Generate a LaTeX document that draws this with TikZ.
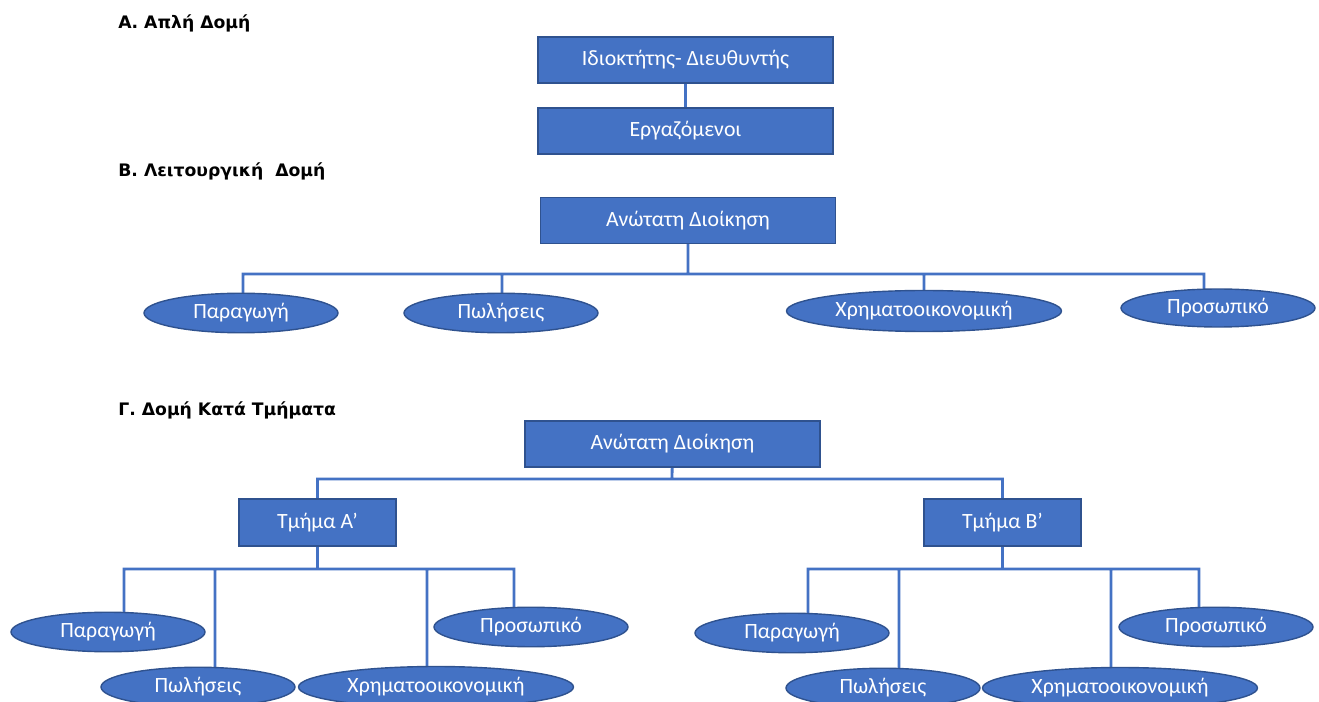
\documentclass[tikz,border=0pt]{standalone}
\usepackage{fontspec}
\setmainfont{Carlito}
\newfontfamily\titlefont{DejaVu Sans}
\usetikzlibrary{shapes.geometric,calc,backgrounds}
\definecolor{boxblue}{HTML}{4472C4}
\definecolor{rimblue}{HTML}{2F528F}
\tikzset{
    %Define standard text font
    font=\fontsize{12.4}{14}\selectfont,
    %Define style for section titles
    titlos/.style={anchor=west, inner sep=0pt, font=\titlefont\bfseries\fontsize{9.8}{11}\selectfont},
    %Define style for boxes
    kouti/.style={
           rectangle,
           fill=boxblue,
           draw=rimblue, line width=0.8pt,
           text=white,
           inner sep=0pt,
           minimum width=5.9cm,
           minimum height=0.92cm},
    tmima/.style={kouti, minimum width=3.14cm, minimum height=0.94cm},
    % Define style for ellipses
    elleipsi/.style={
           ellipse,
           fill=boxblue,
           draw=rimblue, line width=0.8pt,
           text=white,
           inner sep=0pt,
           minimum width=3.88cm,
           minimum height=0.79cm},
    megali/.style={elleipsi, minimum width=5.5cm, minimum height=0.82cm},
    % Define line style
    grammi/.style={
           draw=boxblue,
           line width=1.6pt}
}

\begin{document}
\begin{tikzpicture}[x=0.02cm,y=-0.02cm]
  \useasboundingbox (0,0) rectangle (1319,702);

  % A
  \node[titlos] (tA) at (118,23) {Α. Απλή Δομή};
  \node[kouti] (own) at (685.5,60) {Ιδιοκτήτης- Διευθυντής};
  \node[kouti] (staff) at (685.5,131) {Εργαζόμενοι};

  % B
  \node[titlos] (tB) at (118,171) {Β. Λειτουργική\ \ Δομή};
  \node[kouti] (topB) at (688,220.5) {Ανώτατη Διοίκηση};
  \coordinate (busB) at (688,274);
  \node[elleipsi] (prodB) at (241,313) {Παραγωγή};
  \node[elleipsi] (salesB) at (501,313) {Πωλήσεις};
  \node[megali] (finB) at (924,311) {Χρηματοοικονομική};
  \node[elleipsi, minimum height=0.76cm] (persB) at (1218,308) {Προσωπικό};

  % C
  \node[titlos] (tC) at (118,410) {Γ. Δομή Κατά Τμήματα};
  \node[kouti] (topC) at (672.5,444) {Ανώτατη Διοίκηση};
  \coordinate (busC) at (672,479);
  \node[tmima] (deptA) at (317.5,522.5) {Τμήμα Α’};
  \node[tmima] (deptB) at (1002.5,522.5) {Τμήμα Β’};
  \coordinate (busTA) at (317.5,569);
  \coordinate (busTB) at (1002.5,569);
  \node[elleipsi] (prodA) at (108,632) {Παραγωγή};
  \node[elleipsi] (salesA) at (198,687) {Πωλήσεις};
  \node[megali] (finA) at (436,687) {Χρηματοοικονομική};
  \node[elleipsi] (persA) at (531,627) {Προσωπικό};
  \node[elleipsi] (prodD) at (792,633) {Παραγωγή};
  \node[elleipsi] (salesD) at (883,688) {Πωλήσεις};
  \node[megali] (finD) at (1120,688) {Χρηματοοικονομική};
  \node[elleipsi] (persD) at (1216,627) {Προσωπικό};

  \begin{scope}[on background layer]
    \path[grammi]
      (own) -- (staff)
      (topB) -- (busB)
      ($(prodB)+(2,0)$) |- (busB)
      ($(salesB)+(1,0)$) |- (busB)
      (finB) |- (busB)
      ($(persB)+(-14,0)$) |- (busB)
      (topC) -- (busC)
      (deptA) |- (busC) -| (deptB)
      (deptA) -- (busTA)
      ($(prodA)+(16,0)$) |- (busTA)
      ($(salesA)+(17,0)$) |- (busTA)
      ($(finA)+(-9,0)$) |- (busTA)
      ($(persA)+(-17,0)$) |- (busTA)
      (deptB) -- (busTB)
      ($(prodD)+(16,0)$) |- (busTB)
      ($(salesD)+(16,0)$) |- (busTB)
      ($(finD)+(-9,0)$) |- (busTB)
      ($(persD)+(-17,0)$) |- (busTB);
  \end{scope}
\end{tikzpicture}
\end{document}
